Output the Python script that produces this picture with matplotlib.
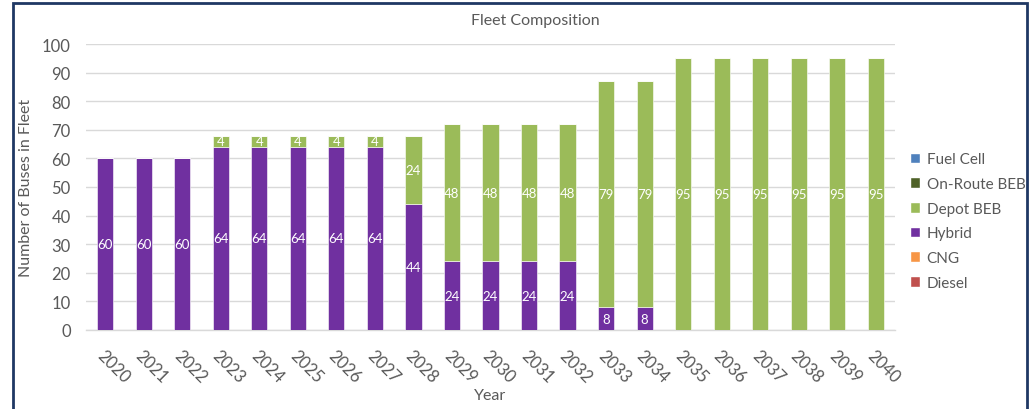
import matplotlib.pyplot as plt
from matplotlib.patches import Rectangle, Patch
import numpy as np

plt.rcParams['font.family'] = ['Lato', 'DejaVu Sans']

years = [str(y) for y in range(2020, 2041)]
diesel = [0] * 21
cng = [0] * 21
hybrid = [60, 60, 60, 64, 64, 64, 64, 64, 44, 24, 24, 24, 24, 8, 8, 0, 0, 0, 0, 0, 0]
depot_beb = [0, 0, 0, 4, 4, 4, 4, 4, 24, 48, 48, 48, 48, 79, 79, 95, 95, 95, 95, 95, 95]
onroute_beb = [0] * 21
fuel_cell = [0] * 21

series = [
    ("Diesel", diesel, "#C0504D"),
    ("CNG", cng, "#F79646"),
    ("Hybrid", hybrid, "#7030A0"),
    ("Depot BEB", depot_beb, "#9BBB59"),
    ("On-Route BEB", onroute_beb, "#4F6228"),
    ("Fuel Cell", fuel_cell, "#4F81BD"),
]

text_gray = "#595959"

fig = plt.figure(figsize=(10.32, 4.10), dpi=100)
ax = fig.add_axes([86 / 1032, 79 / 410, (895 - 86) / 1032, (331 - 45) / 410])

x = np.arange(len(years))
bottom = np.zeros(len(years))
for name, vals, color in series:
    vals = np.array(vals, dtype=float)
    bars = ax.bar(x, vals, 0.42, bottom=bottom, color=color, label=name,
                  edgecolor="white", linewidth=0.4, zorder=3)
    for b, v, b0 in zip(bars, vals, bottom):
        if v > 0:
            ax.text(b.get_x() + b.get_width() / 2, b0 + v / 2, f"{int(v)}",
                    ha="center", va="center", color="white", fontsize=9.5, zorder=4)
    bottom += vals

ax.set_xlim(-0.5, len(years) - 0.5)
ax.set_ylim(0, 100)
ax.set_yticks(range(0, 101, 10))
ax.yaxis.grid(True, color="#D9D9D9", linewidth=1, zorder=0)
ax.set_axisbelow(True)
for s in ["top", "right", "left"]:
    ax.spines[s].set_visible(False)
ax.spines["bottom"].set_color("#D9D9D9")
ax.spines["bottom"].set_linewidth(1)
ax.tick_params(axis="both", length=0, colors=text_gray, labelsize=12)
ax.tick_params(axis="y", pad=11)
ax.set_xticks(x)
ax.set_xticklabels(years, rotation=-45, ha="left", va="top", rotation_mode="anchor")
ax.tick_params(axis="x", pad=12)

ax.set_ylabel("Number of Buses in Fleet", color=text_gray, fontsize=11.5)
ax.yaxis.set_label_coords(-53 / 809, 0.5)
ax.set_xlabel("Year", color=text_gray, fontsize=11.5, labelpad=2)
fig.text(535 / 1032, 1 - 21 / 410, "Fleet Composition", ha="center", va="center",
         color=text_gray, fontsize=11.5)

handles = [Patch(facecolor=c, edgecolor="white", label=n) for n, _, c in reversed(series)]
fig.legend(handles=handles, loc="center left", bbox_to_anchor=(896 / 1032, 1 - 222 / 410),
           frameon=False, fontsize=11, labelcolor=text_gray, handlelength=0.7,
           handleheight=0.7, handletextpad=0.4, labelspacing=0.7)

fig.patches.append(Rectangle((12.5 / 1032, -0.05), (1027 - 12.5) / 1032, 1.05 - 4 / 410,
                             transform=fig.transFigure, fill=False,
                             edgecolor="#1F3864", linewidth=2))

fig.savefig("out.png", dpi=100)
